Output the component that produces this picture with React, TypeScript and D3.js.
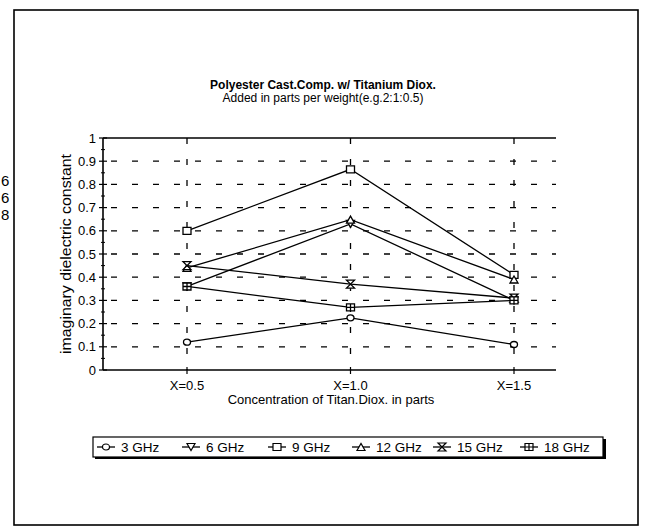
import { useEffect, useRef } from 'react'
import * as d3 from 'd3'

const concentrations = [0.5, 1.0, 1.5]
const concentrationLabels = ['X=0.5', 'X=1.0', 'X=1.5']
const seriesNames = ['3 GHz', '6 GHz', '9 GHz', '12 GHz', '15 GHz', '18 GHz']
const ghz3 = [0.12, 0.225, 0.11]
const ghz6 = [0.36, 0.63, 0.3]
const ghz9 = [0.6, 0.865, 0.41]
const ghz12 = [0.44, 0.648, 0.39]
const ghz15 = [0.45, 0.37, 0.31]
const ghz18 = [0.36, 0.27, 0.3]
const yTicks = [0, 0.1, 0.2, 0.3, 0.4, 0.5, 0.6, 0.7, 0.8, 0.9, 1]
const strayDigits = ['6', '6', '8']

const allSeries = [ghz3, ghz6, ghz9, ghz12, ghz15, ghz18]
const markerKinds = ['circle', 'down', 'square', 'up', 'hourglass', 'crossSquare']

const FONT = '"Liberation Sans", Arial, sans-serif'

function markerPath(kind: string) {
  if (kind === 'circle') return 'M-3.5,0a3.5,3,0 1,0 7,0a3.5,3,0 1,0 -7,0Z'
  if (kind === 'down') return 'M-4,-3.5L4,-3.5L0,3.5Z'
  if (kind === 'up') return 'M-4,3.5L4,3.5L0,-3.5Z'
  if (kind === 'square') return 'M-4,-3.5H4V3.5H-4Z'
  if (kind === 'hourglass') return 'M-4,-4L4,-4L-4,4L4,4Z'
  return 'M-4,-3.5H4V3.5H-4ZM0,-3.5V3.5M-4,0H4'
}

export default function App() {
  const ref = useRef<SVGSVGElement | null>(null)

  useEffect(() => {
    if (!ref.current) return
    const svg = d3.select(ref.current)
    svg.selectAll('*').remove()

    const left = 103
    const right = 556
    const top = 138
    const bottom = 370

    const x = d3.scaleLinear().domain([0.5, 1.5]).range([187, 514])
    const y = d3.scaleLinear().domain([0, 1]).range([bottom, top])

    // page frame
    svg.append('rect').attr('x', 14).attr('y', 10).attr('width', 624).attr('height', 515)
      .attr('fill', 'none').attr('stroke', '#000').attr('stroke-width', 1.6)

    svg.selectAll('text.stray').data(strayDigits).join('text')
      .attr('class', 'stray')
      .attr('x', 1).attr('y', (_d, i) => 186 + i * 17)
      .style('font-family', FONT).style('font-size', '15px').text((d) => d)

    // titles
    svg.append('text').attr('x', 323).attr('y', 89).attr('text-anchor', 'middle')
      .style('font-family', FONT).style('font-size', '12px').style('font-weight', 'bold')
      .text('Polyester Cast.Comp. w/ Titanium Diox.')
    svg.append('text').attr('x', 323).attr('y', 102).attr('text-anchor', 'middle')
      .style('font-family', FONT).style('font-size', '12px')
      .text('Added in parts per weight(e.g.2:1:0.5)')

    // grid
    svg.selectAll('line.hgrid').data(yTicks.filter((t) => t > 0 && t < 1)).join('line')
      .attr('class', 'hgrid')
      .attr('x1', left).attr('x2', right).attr('y1', (d) => y(d)).attr('y2', (d) => y(d))
      .attr('stroke', '#000').attr('stroke-width', 1.3).attr('stroke-dasharray', '6,15')
      .attr('stroke-dashoffset', -8)
    svg.selectAll('line.vgrid').data(concentrations).join('line')
      .attr('class', 'vgrid')
      .attr('x1', (d) => x(d)).attr('x2', (d) => x(d)).attr('y1', top).attr('y2', bottom)
      .attr('stroke', '#000').attr('stroke-width', 1.3).attr('stroke-dasharray', '6,15')

    // axes
    svg.append('line').attr('x1', left).attr('x2', right).attr('y1', top).attr('y2', top)
      .attr('stroke', '#000').attr('stroke-width', 1.4)
    svg.append('line').attr('x1', left).attr('x2', left).attr('y1', top).attr('y2', bottom)
      .attr('stroke', '#000').attr('stroke-width', 1.6)
    svg.append('line').attr('x1', left).attr('x2', right).attr('y1', bottom).attr('y2', bottom)
      .attr('stroke', '#000').attr('stroke-width', 1.6)

    const minor = d3.range(0.05, 1, 0.1)
    svg.selectAll('line.ytick').data(yTicks).join('line')
      .attr('class', 'ytick')
      .attr('x1', left - 4).attr('x2', left + 4).attr('y1', (d) => y(d)).attr('y2', (d) => y(d))
      .attr('stroke', '#000').attr('stroke-width', 1.2)
    svg.selectAll('line.yminor').data(minor).join('line')
      .attr('class', 'yminor')
      .attr('x1', left - 2).attr('x2', left + 2).attr('y1', (d) => y(d)).attr('y2', (d) => y(d))
      .attr('stroke', '#000').attr('stroke-width', 1)
    svg.selectAll('text.ylab').data(yTicks).join('text')
      .attr('class', 'ylab')
      .attr('x', left - 7).attr('y', (d) => y(d)).attr('dy', '0.36em').attr('text-anchor', 'end')
      .style('font-family', FONT).style('font-size', '13px')
      .text((d) => d3.format('~g')(d))

    svg.selectAll('line.xtick').data(concentrations).join('line')
      .attr('class', 'xtick')
      .attr('x1', (d) => x(d)).attr('x2', (d) => x(d)).attr('y1', bottom - 3).attr('y2', bottom + 4)
      .attr('stroke', '#000').attr('stroke-width', 1.2)
    svg.selectAll('text.xlab').data(concentrations).join('text')
      .attr('class', 'xlab')
      .attr('x', (d) => x(d)).attr('y', 390).attr('text-anchor', 'middle')
      .style('font-family', FONT).style('font-size', '13px')
      .text((_d, i) => concentrationLabels[i])

    svg.append('text').attr('x', 331).attr('y', 404).attr('text-anchor', 'middle')
      .style('font-family', FONT).style('font-size', '13px')
      .text('Concentration of Titan.Diox. in parts')
    svg.append('text')
      .attr('transform', `translate(71,${(top + bottom) / 2}) rotate(-90)`)
      .attr('text-anchor', 'middle')
      .attr('textLength', 200).attr('lengthAdjust', 'spacingAndGlyphs')
      .style('font-family', FONT).style('font-size', '14px')
      .text('imaginary dielectric constant')

    // series
    const line = d3.line<number>().x((_d, i) => x(concentrations[i])).y((d) => y(d))
    allSeries.forEach((vals, si) => {
      svg.append('path').attr('d', line(vals)).attr('fill', 'none')
        .attr('stroke', '#000').attr('stroke-width', 1.3)
      svg.selectAll(`path.m${si}`).data(vals).join('path')
        .attr('class', `m${si}`)
        .attr('transform', (d, i) => `translate(${x(concentrations[i])},${y(d)})`)
        .attr('d', markerPath(markerKinds[si]))
        .attr('fill', '#fff').attr('stroke', '#000').attr('stroke-width', 1.3)
    })

    // legend
    const legendX = [97, 182, 268, 352, 433, 520]
    svg.append('rect').attr('x', 95).attr('y', 439).attr('width', 511).attr('height', 20).attr('fill', '#000')
    svg.append('rect').attr('x', 93).attr('y', 437).attr('width', 510).attr('height', 20)
      .attr('fill', '#fff').attr('stroke', '#000').attr('stroke-width', 1.2)
    const lg = svg.selectAll('g.leg').data(seriesNames).join('g')
      .attr('class', 'leg')
      .attr('transform', (_d, i) => `translate(${legendX[i]},447)`)
    lg.append('line').attr('x1', 0).attr('x2', 18).attr('stroke', '#000').attr('stroke-width', 1.3)
    lg.append('path').attr('transform', 'translate(9,0)')
      .attr('d', (_d, i) => markerPath(markerKinds[i]))
      .attr('fill', '#fff').attr('stroke', '#000').attr('stroke-width', 1.2)
    lg.append('text').attr('x', 24).attr('dy', '0.36em')
      .style('font-family', FONT).style('font-size', '13.5px')
      .text((d) => d)
  }, [])

  return (
    <svg
      ref={ref}
      width={649}
      height={527}
      style={{ position: 'absolute', left: 0, top: 0, background: '#fff' }}
    />
  )
}
